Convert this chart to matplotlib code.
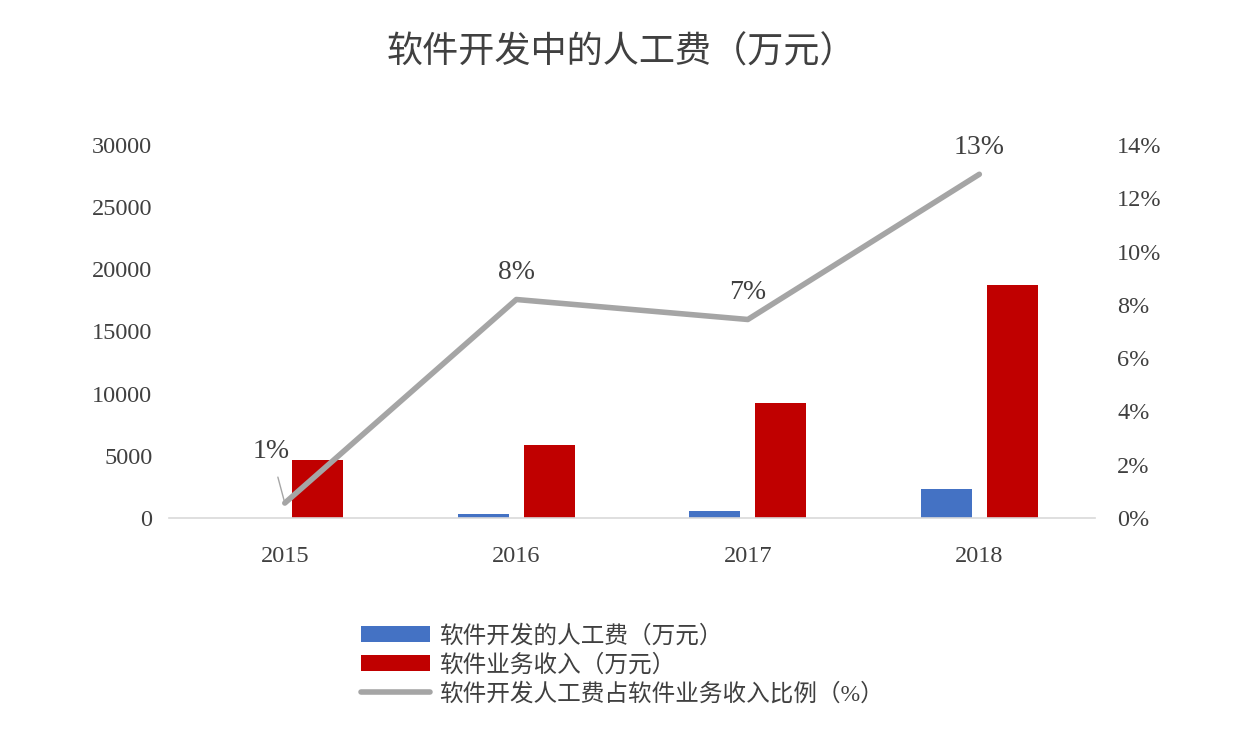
import numpy as np
import matplotlib.pyplot as plt

# ------------------------------
# DATA
# ------------------------------
years = ['2015', '2016', '2017', '2018']
labor_cost = [0, 350, 590, 2330]          # 软件开发的人工费（万元）
software_revenue = [4700, 5900, 9250, 18750]  # 软件业务收入（万元）
labor_ratio = [0.56, 8.2, 7.45, 12.9]     # 人工费占收入比例（%）
ratio_labels = ['1%', '8%', '7%', '13%']

left_ticks = [0, 5000, 10000, 15000, 20000, 25000, 30000]
right_ticks = [0, 2, 4, 6, 8, 10, 12, 14]

# ------------------------------
# STYLE
# ------------------------------
fonts = ['Liberation Serif', 'Noto Sans CJK SC', 'DejaVu Sans']
plt.rcParams['font.family'] = fonts
text_color = '#404040'
blue = '#4472C4'
red = '#C00000'
gray = '#A5A5A5'

fig = plt.figure(figsize=(12.43, 7.34), dpi=100)
ax = fig.add_axes([0.136, 0.2943, 0.745, 0.5082])
ax2 = ax.twinx()

x = np.arange(len(years))
offset = 0.143
width = 0.22

ax.bar(x - offset, labor_cost, width, color=blue, zorder=2)
ax.bar(x + offset, software_revenue, width, color=red, zorder=2)
line, = ax2.plot(x, labor_ratio, color=gray, linewidth=4, solid_capstyle='round', zorder=3)

ax.set_xlim(-0.5, len(years) - 0.5)
ax.set_ylim(0, 30000)
ax2.set_ylim(0, 14)

ax.set_xticks(x)
ax.set_xticklabels(years)
ax.set_yticks(left_ticks)
ax.set_yticklabels([str(t) for t in left_ticks])
ax2.set_yticks(right_ticks)
ax2.set_yticklabels([f'{t}%' for t in right_ticks])

for a in (ax, ax2):
    for side in ('top', 'left', 'right', 'bottom'):
        a.spines[side].set_visible(False)
    a.tick_params(length=0, colors=text_color, labelsize=17.5)
ax.spines['bottom'].set_visible(True)
ax.spines['bottom'].set_color('#D9D9D9')
ax.spines['bottom'].set_linewidth(1.2)
ax.tick_params(axis='y', pad=12)
ax.tick_params(axis='x', pad=20)
ax2.tick_params(axis='y', pad=16)

# data labels on the ratio line
for i, (v, lab) in enumerate(zip(labor_ratio, ratio_labels)):
    if i == 0:
        ax2.annotate(lab, xy=(x[i], v), xytext=(x[i] - 0.06, v + 1.95),
                     ha='center', va='center', fontsize=20, color=text_color,
                     arrowprops=dict(arrowstyle='-', color='#A6A6A6', lw=1,
                                     shrinkA=8, shrinkB=0))
    else:
        ax2.text(x[i], v + 0.55, lab, ha='center', va='bottom',
                 fontsize=20, color=text_color)

fig.text(0.5, 0.928, '软件开发中的人工费（万元）', ha='center', va='center',
         fontsize=26, color=text_color)

handles = [ax.containers[0], ax.containers[1], line]
labels = ['软件开发的人工费（万元）', '软件业务收入（万元）',
          '软件开发人工费占软件业务收入比例（%）']
fig.legend(handles, labels, loc='upper left', bbox_to_anchor=(0.283, 0.162),
           frameon=False, fontsize=17, labelcolor=text_color,
           handlelength=2.9, handleheight=0.7, labelspacing=0.28,
           borderaxespad=0, handletextpad=0.4)

fig.savefig('out.png', dpi=100)
